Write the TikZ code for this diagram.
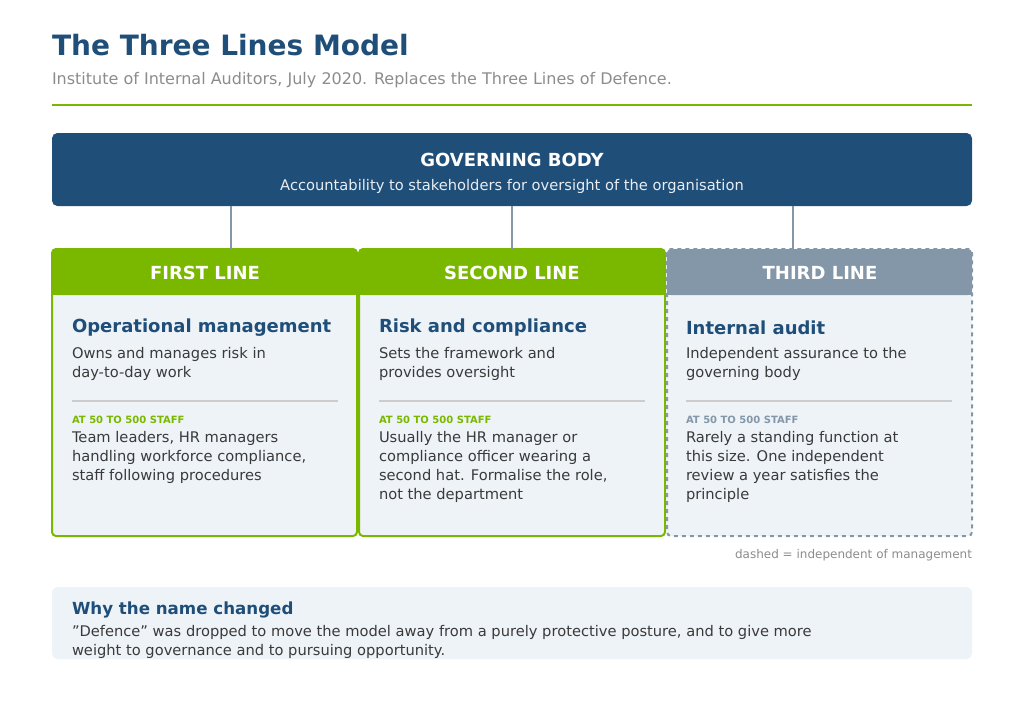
\documentclass[tikz,border=0pt]{standalone}
\usepackage{fontspec}
\setmainfont{DejaVu Sans}
\usetikzlibrary{positioning}
\definecolor{navy}{HTML}{1F4E79}
\definecolor{leaf}{HTML}{7AB800}
\definecolor{slate}{HTML}{8497A8}
\definecolor{pale}{HTML}{EEF3F8}
\definecolor{ink}{HTML}{3A3A3A}
\definecolor{mute}{HTML}{8C8C8C}
\begin{document}
\begin{tikzpicture}[x=0.75pt,y=-0.75pt,
  every node/.style={inner sep=0pt, outer sep=0pt},
  txt/.style={anchor=north west, align=left, font=\fontsize{11}{14.3}\selectfont, text=ink},
  head/.style={anchor=west, font=\fontsize{13.5}{16}\selectfont\bfseries, text=navy},
  tag/.style={anchor=west, font=\fontsize{7.5}{9}\selectfont\bfseries},
  card/.style={rounded corners=3pt, line width=1.5pt, fill=pale},
  link/.style={draw=slate, line width=1.5pt}]
\useasboundingbox (0,0) rectangle (1024,700);
\node[anchor=west, font=\fontsize{21}{25}\selectfont\bfseries, text=navy] (title) at (52,45) {The Three Lines Model};
\node[anchor=west, font=\fontsize{12}{14}\selectfont, text=mute] (sub) at (52,80) {Institute of Internal Auditors, July 2020. Replaces the Three Lines of Defence.};
\draw[leaf, line width=2.2pt] (52,105) -- (972,105);
% governing body
\node[fill=navy, rounded corners=4pt, minimum width=690pt, minimum height=54.75pt, anchor=north west] (gov) at (52,133) {};
\node[text=white, font=\fontsize{13.5}{16}\selectfont\bfseries] (govt) at (512,160) {GOVERNING BODY};
\node[text=white!90!navy, font=\fontsize{11}{13}\selectfont] (govs) at (512,186) {Accountability to stakeholders for oversight of the organisation};
% cards
\draw[card, draw=leaf] (52,249) rectangle (357,536);
\draw[card, draw=leaf] (359,249) rectangle (665,536);
\draw[card, draw=slate, dashed] (667,249) rectangle (972,536);
\fill[leaf, rounded corners=3pt] (52,249) rectangle (357,295);
\fill[leaf] (52,280) rectangle (357,295);
\fill[leaf, rounded corners=3pt] (359,249) rectangle (665,295);
\fill[leaf] (359,280) rectangle (665,295);
\fill[slate, rounded corners=3pt] (667,249) rectangle (972,295);
\fill[slate] (667,280) rectangle (972,295);
\node[text=white, font=\fontsize{13.5}{16}\selectfont\bfseries] (first) at (205,273) {FIRST LINE};
\node[text=white, font=\fontsize{13.5}{16}\selectfont\bfseries] (second) at (512,273) {SECOND LINE};
\node[text=white, font=\fontsize{13.5}{16}\selectfont\bfseries] (third) at (820,273) {THIRD LINE};
\coordinate (c1) at (231,249);
\coordinate (c2) at (512,249);
\coordinate (c3) at (793,249);
\draw[link] (gov.south -| c1) -- (c1);
\draw[link] (gov.south -| c2) -- (c2);
\draw[link] (gov.south -| c3) -- (c3);
% first line
\node[head] (h1) at (72,328) {Operational management};
\node[txt] (d1) at (72,347) {Owns and manages risk in\\day-to-day work};
\draw[black!20, line width=0.8pt] (72,401) -- (338,401);
\node[tag, text=leaf] (t1) at (72,420) {AT 50 TO 500 STAFF};
\node[txt] (b1) at (72,431) {Team leaders, HR managers\\handling workforce compliance,\\staff following procedures};
% second line
\node[head] (h2) at (379,328) {Risk and compliance};
\node[txt] (d2) at (379,347) {Sets the framework and\\provides oversight};
\draw[black!20, line width=0.8pt] (379,401) -- (645,401);
\node[tag, text=leaf] (t2) at (379,420) {AT 50 TO 500 STAFF};
\node[txt] (b2) at (379,431) {Usually the HR manager or\\compliance officer wearing a\\second hat. Formalise the role,\\not the department};
% third line
\node[head] (h3) at (686,328) {Internal audit};
\node[txt] (d3) at (686,347) {Independent assurance to the\\governing body};
\draw[black!20, line width=0.8pt] (686,401) -- (952,401);
\node[tag, text=slate] (t3) at (686,420) {AT 50 TO 500 STAFF};
\node[txt] (b3) at (686,431) {Rarely a standing function at\\this size. One independent\\review a year satisfies the\\principle};
\node[anchor=east, font=\fontsize{9}{11}\selectfont, text=mute] (note) at (972,555) {dashed = independent of management};
% bottom
\fill[pale, rounded corners=4pt] (52,587) rectangle (972,659);
\node[head, font=\fontsize{12.5}{15}\selectfont\bfseries] (why) at (72,610) {Why the name changed};
\node[txt] (whyt) at (72,625) {"Defence" was dropped to move the model away from a purely protective posture, and to give more\\weight to governance and to pursuing opportunity.};
\end{tikzpicture}
\end{document}
